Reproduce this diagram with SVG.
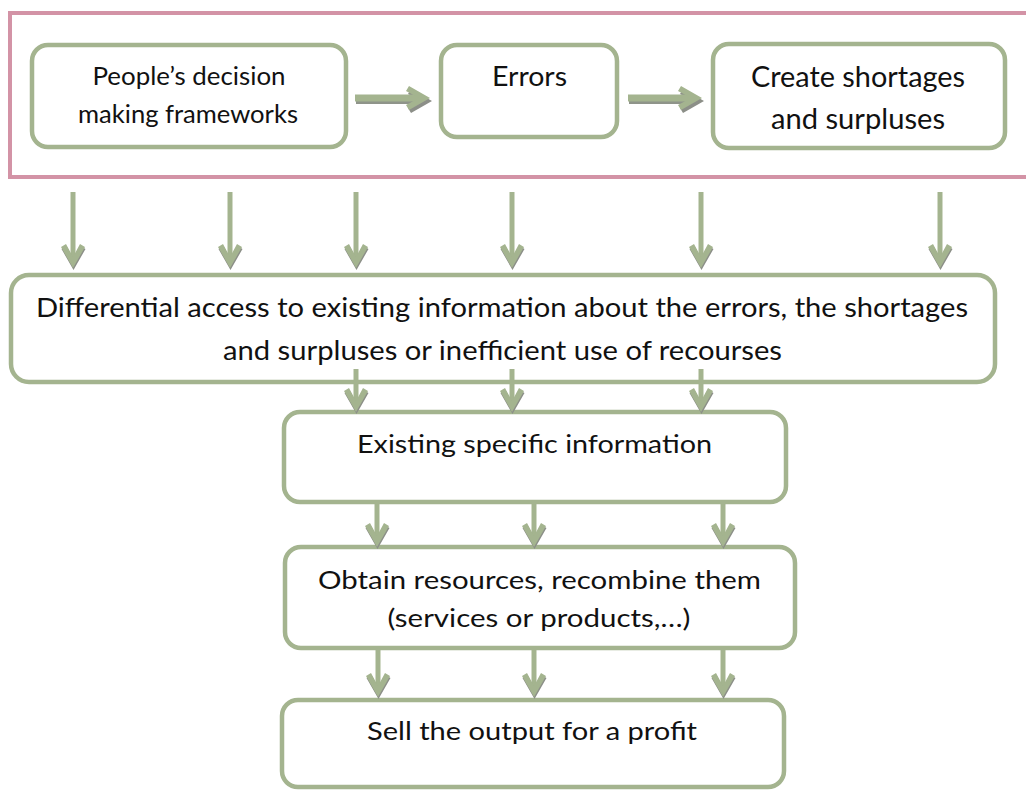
<svg xmlns="http://www.w3.org/2000/svg" xmlns:xlink="http://www.w3.org/1999/xlink" width="1026" height="790" viewBox="0 0 1026 790">
  <style>
    .box { fill: #ffffff; stroke: #A4B48F; stroke-width: 4.5; }
    .frame { fill: none; stroke: #D393A6; stroke-width: 4; }
    .t { font-family: Lato, "Liberation Sans", sans-serif; fill: #111111; text-anchor: middle; }
    .shaft { stroke: #A4B48F; fill: none; }
    .shadowShaft { stroke: #8F948A; fill: none; }
    .head { fill: #A4B48F; }
    .headShadow { fill: #8C8F88; }
  </style>
  <defs>
    <polygon id="chev" points="0,0 -12,-21 -7,-24 0,-11 7,-24 12,-21"/>
  </defs>
  <rect width="1026" height="790" fill="#ffffff"/>

  <g id="frame">
    <rect class="frame" x="10" y="13" width="1040" height="164"/>
  </g>

  <g id="node-decision">
    <rect class="box" x="32" y="45" width="314" height="102" rx="16"/>
    <text class="t" x="189" y="85" font-size="25" textLength="193" lengthAdjust="spacingAndGlyphs">People’s decision</text>
    <text class="t" x="188" y="123" font-size="25" textLength="220" lengthAdjust="spacingAndGlyphs">making frameworks</text>
  </g>

  <g id="node-errors">
    <rect class="box" x="441" y="45" width="176" height="92" rx="16"/>
    <text class="t" x="529.5" y="86" font-size="27" textLength="75" lengthAdjust="spacingAndGlyphs">Errors</text>
  </g>

  <g id="node-shortages">
    <rect class="box" x="713" y="44" width="292" height="104" rx="16"/>
    <text class="t" x="858" y="87" font-size="28" textLength="214" lengthAdjust="spacingAndGlyphs">Create shortages</text>
    <text class="t" x="858" y="129" font-size="28" textLength="174" lengthAdjust="spacingAndGlyphs">and surpluses</text>
  </g>

  <g id="node-differential">
    <rect class="box" x="11" y="275" width="984" height="107" rx="18"/>
    <text class="t" x="502" y="317" font-size="26.5" textLength="932" lengthAdjust="spacingAndGlyphs">Differential access to existing information about the errors, the shortages</text>
    <text class="t" x="502.5" y="360" font-size="26.5" textLength="559" lengthAdjust="spacingAndGlyphs">and surpluses or inefficient use of recourses</text>
  </g>

  <g id="node-existing">
    <rect class="box" x="284" y="412" width="502" height="90" rx="16"/>
    <text class="t" x="534.5" y="453" font-size="25" textLength="355" lengthAdjust="spacingAndGlyphs">Existing specific information</text>
  </g>

  <g id="node-obtain">
    <rect class="box" x="285" y="547" width="510" height="101" rx="16"/>
    <text class="t" x="539.5" y="589" font-size="25" textLength="443" lengthAdjust="spacingAndGlyphs">Obtain resources, recombine them</text>
    <text class="t" x="539" y="627" font-size="25" textLength="303" lengthAdjust="spacingAndGlyphs">(services or products,…)</text>
  </g>

  <g id="node-sell">
    <rect class="box" x="282" y="700" width="502" height="87" rx="16"/>
    <text class="t" x="532" y="740" font-size="25" textLength="330" lengthAdjust="spacingAndGlyphs">Sell the output for a profit</text>
  </g>

  <g id="connectors">
    <!-- horizontal arrows -->
    <g>
      <line class="shadowShaft" x1="356" y1="100.5" x2="420" y2="100.5" stroke-width="7"/>
      <use xlink:href="#chev" class="headShadow" transform="translate(432,101) rotate(-90)"/>
      <line class="shaft" x1="355" y1="98" x2="419" y2="98" stroke-width="7"/>
      <use xlink:href="#chev" class="head" transform="translate(430,98) rotate(-90)"/>
    </g>
    <g>
      <line class="shadowShaft" x1="629" y1="100.5" x2="693" y2="100.5" stroke-width="7"/>
      <use xlink:href="#chev" class="headShadow" transform="translate(704,101) rotate(-90)"/>
      <line class="shaft" x1="628" y1="98" x2="692" y2="98" stroke-width="7"/>
      <use xlink:href="#chev" class="head" transform="translate(702,98) rotate(-90)"/>
    </g>

    <!-- frame to differential -->
    <g stroke-width="5">
      <line class="shaft" x1="73" y1="192" x2="73" y2="258"/>
      <line class="shaft" x1="230" y1="192" x2="230" y2="258"/>
      <line class="shaft" x1="356" y1="192" x2="356" y2="258"/>
      <line class="shaft" x1="512" y1="192" x2="512" y2="258"/>
      <line class="shaft" x1="701" y1="192" x2="701" y2="258"/>
      <line class="shaft" x1="940" y1="192" x2="940" y2="258"/>
    </g>
    <use xlink:href="#chev" class="headShadow" transform="translate(73.5,270)"/>
    <use xlink:href="#chev" class="head" transform="translate(73,268)"/>
    <use xlink:href="#chev" class="headShadow" transform="translate(230.5,270)"/>
    <use xlink:href="#chev" class="head" transform="translate(230,268)"/>
    <use xlink:href="#chev" class="headShadow" transform="translate(356.5,270)"/>
    <use xlink:href="#chev" class="head" transform="translate(356,268)"/>
    <use xlink:href="#chev" class="headShadow" transform="translate(512.5,270)"/>
    <use xlink:href="#chev" class="head" transform="translate(512,268)"/>
    <use xlink:href="#chev" class="headShadow" transform="translate(701.5,270)"/>
    <use xlink:href="#chev" class="head" transform="translate(701,268)"/>
    <use xlink:href="#chev" class="headShadow" transform="translate(940.5,270)"/>
    <use xlink:href="#chev" class="head" transform="translate(940,268)"/>

    <!-- differential to existing -->
    <g stroke-width="5">
      <line class="shaft" x1="356" y1="369" x2="356" y2="402"/>
      <line class="shaft" x1="512" y1="369" x2="512" y2="402"/>
      <line class="shaft" x1="701" y1="369" x2="701" y2="402"/>
    </g>
    <use xlink:href="#chev" class="headShadow" transform="translate(356.5,414)"/>
    <use xlink:href="#chev" class="head" transform="translate(356,412)"/>
    <use xlink:href="#chev" class="headShadow" transform="translate(512.5,414)"/>
    <use xlink:href="#chev" class="head" transform="translate(512,412)"/>
    <use xlink:href="#chev" class="headShadow" transform="translate(701.5,414)"/>
    <use xlink:href="#chev" class="head" transform="translate(701,412)"/>

    <!-- existing to obtain -->
    <g stroke-width="5">
      <line class="shaft" x1="377" y1="504" x2="377" y2="537"/>
      <line class="shaft" x1="534" y1="504" x2="534" y2="537"/>
      <line class="shaft" x1="723" y1="504" x2="723" y2="537"/>
    </g>
    <use xlink:href="#chev" class="headShadow" transform="translate(377.5,549)"/>
    <use xlink:href="#chev" class="head" transform="translate(377,547)"/>
    <use xlink:href="#chev" class="headShadow" transform="translate(534.5,549)"/>
    <use xlink:href="#chev" class="head" transform="translate(534,547)"/>
    <use xlink:href="#chev" class="headShadow" transform="translate(723.5,549)"/>
    <use xlink:href="#chev" class="head" transform="translate(723,547)"/>

    <!-- obtain to sell -->
    <g stroke-width="5">
      <line class="shaft" x1="378" y1="650" x2="378" y2="687"/>
      <line class="shaft" x1="534" y1="650" x2="534" y2="687"/>
      <line class="shaft" x1="723" y1="650" x2="723" y2="687"/>
    </g>
    <use xlink:href="#chev" class="headShadow" transform="translate(378.5,699)"/>
    <use xlink:href="#chev" class="head" transform="translate(378,697)"/>
    <use xlink:href="#chev" class="headShadow" transform="translate(534.5,699)"/>
    <use xlink:href="#chev" class="head" transform="translate(534,697)"/>
    <use xlink:href="#chev" class="headShadow" transform="translate(723.5,699)"/>
    <use xlink:href="#chev" class="head" transform="translate(723,697)"/>
  </g>
</svg>
